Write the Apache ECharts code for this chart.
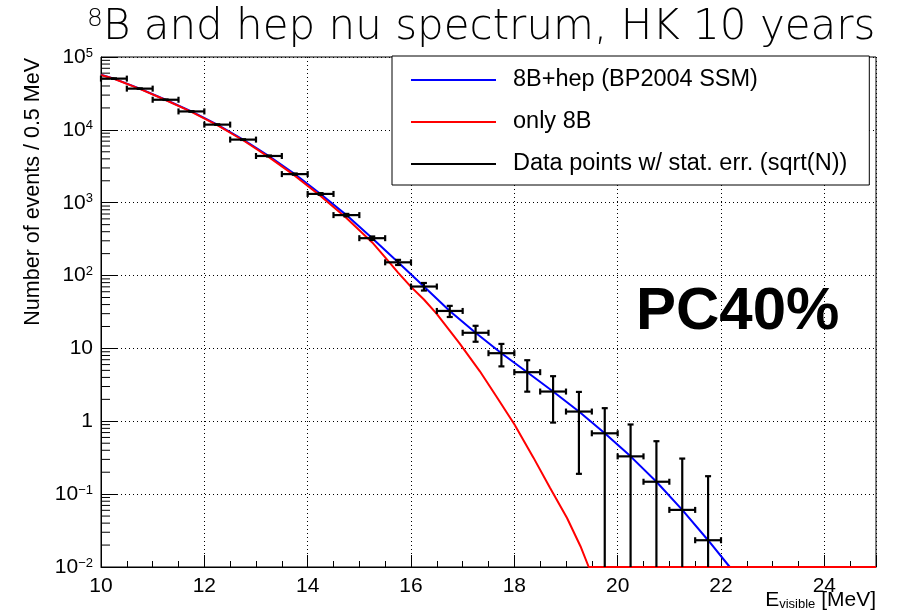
<!DOCTYPE html>
<html><head><meta charset="utf-8">
<script src="https://cdn.jsdelivr.net/npm/echarts@6/dist/echarts.min.js"></script>
<style>html,body{margin:0;padding:0;background:#fff}#c{width:902px;height:614px}</style>
</head><body><div id="c"></div>
<script>
// ---- data ----
const binWidth = 0.5; // MeV
const binCenters = [10.25, 10.75, 11.25, 11.75, 12.25, 12.75, 13.25, 13.75, 14.25, 14.75, 15.25, 15.75,
  16.25, 16.75, 17.25, 17.75, 18.25, 18.75, 19.25, 19.75, 20.25, 20.75, 21.25, 21.75];
const binCounts = [50500, 36800, 25900, 17900, 11800, 7350, 4380, 2470, 1320, 676, 326, 152,
  70.7, 32.7, 16.4, 8.6, 4.72, 2.56, 1.36, 0.684, 0.330, 0.148, 0.0608, 0.0233];
const binErrors = [225, 192, 161, 134, 109, 86, 66, 50, 36, 26, 18, 12.3,
  8.4, 5.7, 4.05, 2.93, 2.17, 1.6, 1.17, 0.83, 0.574, 0.385, 0.247, 0.153];

const hepCurveE = [10, 10.25, 10.75, 11.25, 11.75, 12.25, 12.75, 13.25, 13.75, 14.25, 14.75, 15.25, 15.75,
  16.25, 16.75, 17.25, 17.75, 18.25, 18.75, 19.25, 19.75, 20.25, 20.75, 21.25, 21.75, 22.17, 25];
const hepCurveN = [57000, 50500, 36800, 25900, 17900, 11800, 7350, 4380, 2470, 1320, 676, 326, 152,
  70.7, 32.7, 16.4, 8.6, 4.72, 2.56, 1.36, 0.684, 0.330, 0.148, 0.0608, 0.0233, 0.01, 0.01];

const b8CurveE = [10, 10.25, 10.75, 11.25, 11.75, 12.25, 12.75, 13.25, 13.75, 14.25, 14.75, 15.25, 15.5,
  15.75, 16.0, 16.25, 16.49, 16.94, 17.33, 17.65, 18.0, 18.37, 18.69, 19.02, 19.28, 19.44, 25];
const b8CurveN = [56500, 50200, 36500, 25700, 17700, 11600, 7200, 4230, 2350, 1240, 615, 285, 178,
  110, 70, 47, 30.3, 11.7, 4.89, 2.21, 0.91, 0.317, 0.122, 0.047, 0.0193, 0.01, 0.01];

const xMin = 10, xMax = 25, xStep = 2;
const yMin = 0.01, yMax = 100000;
const yDecadeExponents = [-2, -1, 0, 1, 2, 3, 4, 5];

const seriesNames = ['8B+hep (BP2004 SSM)', 'only 8B', 'Data points w/ stat. err. (sqrt(N))'];

// ---- build ----
const FONT = 'Liberation Sans, Arial, Helvetica, sans-serif';
const zip = (a, b) => a.map((v, i) => [v, b[i]]);
const errData = binCenters.map((x, i) => [x, binCounts[i], binErrors[i]]);
const minorTickVals = [];
yDecadeExponents.slice(0, -1).forEach(e => {
  for (let m = 2; m <= 9; m++) minorTickVals.push([xMin, m * Math.pow(10, e)]);
});

const chart = echarts.init(document.getElementById('c'), null, {renderer: 'canvas'});
chart.setOption({
  animation: false,
  backgroundColor: '#fff',
  title: {
    text: '{sup|8}B and hep nu spectrum, HK 10 years',
    left: 82, top: 2,
    textStyle: {
      fontFamily: 'DejaVu Sans', fontWeight: 200, fontSize: 42, color: '#000',
      rich: { sup: { fontFamily: 'DejaVu Sans', fontWeight: 200, fontSize: 25, verticalAlign: 'top', color: '#000' } }
    }
  },
  grid: { left: 101, right: 26, top: 57, bottom: 47, show: true, borderColor: '#000', borderWidth: 1, backgroundColor: 'transparent' },
  legend: {
    data: seriesNames,
    orient: 'vertical',
    left: 392, top: 56,
    itemWidth: 85, itemHeight: 20, itemGap: 18,
    padding: [12, 22, 9, 18],
    backgroundColor: '#fff', borderColor: '#000', borderWidth: 1,
    itemStyle: { opacity: 0 },
    textStyle: { fontFamily: FONT, fontSize: 23.5, color: '#000', lineHeight: 24, padding: [0, 0, 0, 12] }
  },
  xAxis: {
    type: 'value', min: xMin, max: xMax, interval: xStep,
    axisLine: { show: true, lineStyle: { color: '#000', width: 1 } },
    axisTick: { show: true, inside: true, length: 12, lineStyle: { color: '#000' } },
    minorTick: { show: true, splitNumber: 4, length: 6, lineStyle: { color: '#000' } },
    splitLine: { show: true, lineStyle: { color: '#000', type: [1, 3], width: 1 } },
    axisLabel: { fontFamily: FONT, fontSize: 21, color: '#000', margin: 9, showMaxLabel: false }
  },
  yAxis: {
    type: 'log', logBase: 10, min: yMin, max: yMax,
    axisLine: { show: true, lineStyle: { color: '#000', width: 1 } },
    axisTick: { show: true, inside: true, length: 17, lineStyle: { color: '#000' } },
    splitLine: { show: true, lineStyle: { color: '#000', type: [1, 3], width: 1 } },
    axisLabel: {
      fontFamily: FONT, fontSize: 21, color: '#000', margin: 8,
      formatter: v => {
        const e = Math.round(Math.log10(v));
        if (e === 0) return '1';
        if (e === 1) return '10';
        return '10{sup|' + (e < 0 ? '\u2212' + (-e) : e) + '}';
      },
      rich: { sup: { fontFamily: FONT, fontSize: 13, color: '#000', verticalAlign: 'top' } }
    }
  },
  series: [
    {
      name: seriesNames[0], type: 'line', data: zip(hepCurveE, hepCurveN),
      symbol: 'none', lineStyle: { color: '#0000ff', width: 2 }, itemStyle: { color: '#0000ff' }, z: 3, clip: false
    },
    {
      name: seriesNames[1], type: 'line', data: zip(b8CurveE, b8CurveN),
      symbol: 'none', lineStyle: { color: '#ff0000', width: 2 }, itemStyle: { color: '#ff0000' }, z: 4, clip: false
    },
    {
      name: seriesNames[2], type: 'line', data: [],
      symbol: 'none', lineStyle: { color: '#000', width: 3 }, itemStyle: { color: '#000' }
    },
    {
      name: 'errbars', type: 'custom', data: errData, z: 5, clip: false,
      renderItem: (params, api) => {
        const x = api.value(0), y = api.value(1), err = api.value(2);
        const c = api.coord([x, y]);
        const l = api.coord([x - binWidth / 2, y]);
        const r = api.coord([x + binWidth / 2, y]);
        const t = api.coord([x, y + err]);
        const low = y - err;
        const clipped = !(low > yMin);
        const b = clipped ? [c[0], api.coord([x, yMin])[1]] : api.coord([x, low]);
        const cap = 3;
        const st = { stroke: '#000', lineWidth: 2.2 };
        const ln = (x1, y1, x2, y2) => ({ type: 'line', shape: { x1, y1, x2, y2 }, style: st });
        const ch = [
          ln(l[0], c[1], r[0], c[1]),
          ln(l[0], c[1] - cap, l[0], c[1] + cap),
          ln(r[0], c[1] - cap, r[0], c[1] + cap),
          ln(c[0], t[1], c[0], b[1]),
          ln(c[0] - cap, t[1], c[0] + cap, t[1])
        ];
        if (!clipped) ch.push(ln(c[0] - cap, b[1], c[0] + cap, b[1]));
        return { type: 'group', children: ch };
      }
    },
    {
      name: 'yminor', type: 'custom', data: minorTickVals, z: 2, silent: true,
      renderItem: (params, api) => {
        const p = api.coord([api.value(0), api.value(1)]);
        return { type: 'line', shape: { x1: p[0], y1: p[1], x2: p[0] + 9, y2: p[1] }, style: { stroke: '#000', lineWidth: 1 } };
      }
    }
  ],
  graphic: [
    { type: 'text', x: 33, y: 58, rotation: Math.PI / 2,
      style: { text: 'Number of events / 0.5 MeV', fontFamily: FONT, fontSize: 21.5, fill: '#000', align: 'right', verticalAlign: 'middle' } },
    { type: 'text', x: 876, y: 600,
      style: { text: '{e|E}{s|visible}{e| [MeV]}', align: 'right', verticalAlign: 'middle', fill: '#000',
        rich: { e: { fontFamily: FONT, fontSize: 21, fill: '#000', lineHeight: 22 },
                s: { fontFamily: FONT, fontSize: 13, fill: '#000', verticalAlign: 'bottom', lineHeight: 14 } } } },
    { type: 'text', x: 636, y: 312,
      style: { text: 'PC40%', fontFamily: FONT, fontWeight: 'bold', fontSize: 60, fill: '#000', align: 'left', verticalAlign: 'middle' } }
  ]
});
</script></body></html>
